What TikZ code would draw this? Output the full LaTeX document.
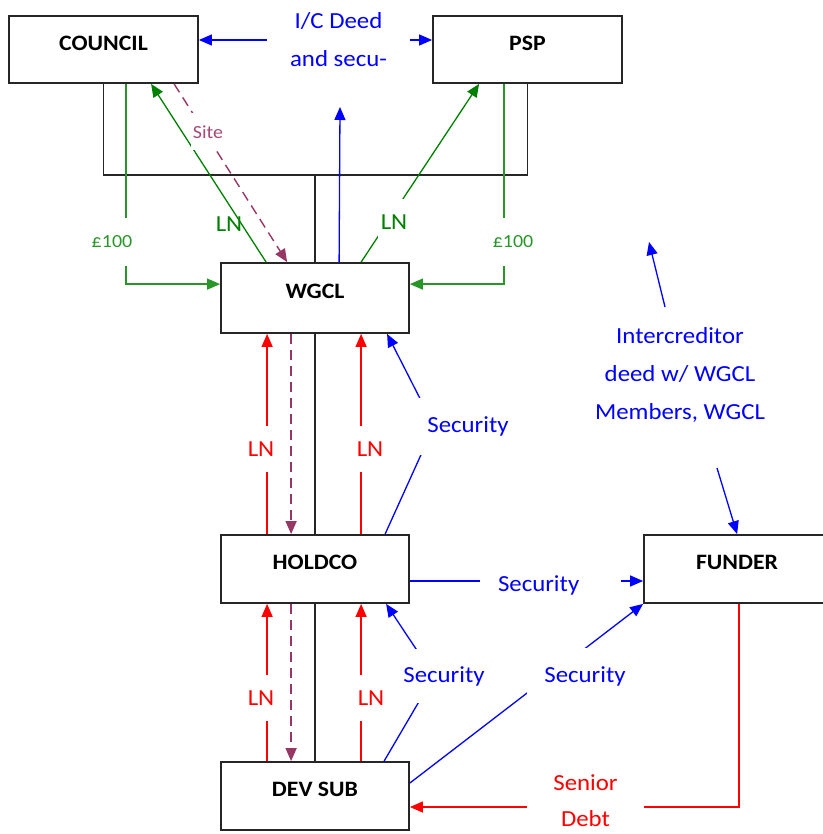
\documentclass[tikz,border=0pt]{standalone}
\usepackage{fontspec}
\setmainfont[FakeStretch=1.08]{Carlito}
\usetikzlibrary{arrows.meta,calc}
\definecolor{cblue}{RGB}{0,0,255}
\definecolor{cgreen}{RGB}{0,128,0}
\definecolor{clgreen}{RGB}{40,150,40}
\definecolor{cred}{RGB}{255,0,0}
\definecolor{cpurp}{RGB}{150,55,100}
\definecolor{cpurptext}{RGB}{165,75,120}
\begin{document}
\begin{tikzpicture}[x=1pt,y=-1pt,
  box/.style={draw=black!85, line width=1.8pt, fill=white, rectangle, inner sep=0pt,
    font=\fontsize{22}{26}\selectfont\bfseries, text height=16pt, text depth=16pt},
  tip/.style={-{Triangle[length=13pt,width=11pt]}},
  own/.style={draw=black!85, line width=1.5pt},
  gline/.style={draw=cgreen, line width=1.3pt},
  lgline/.style={draw=clgreen, line width=1.3pt},
  bline/.style={draw=cblue, line width=1.3pt},
  rline/.style={draw=cred, line width=1.3pt},
  pline/.style={draw=cpurp, line width=1.4pt, dash pattern=on 10pt off 6pt},
  lbl/.style={fill=white, font=\fontsize{23}{38}\selectfont, inner sep=0pt, align=center},
  slbl/.style={fill=white, font=\fontsize{18.5}{22}\selectfont, inner sep=0pt, align=center}
]
\useasboundingbox (0,0) rectangle (822,834);

% boxes
\node[box, minimum width=189pt, minimum height=67pt, text depth=13pt] (council) at (103.5,49.5) {COUNCIL};
\node[box, minimum width=189pt, minimum height=67pt, text depth=13pt] (psp) at (527.5,49.5) {PSP};
\node[box, minimum width=188pt, minimum height=70pt] (wgcl) at (315,298) {WGCL};
\node[box, minimum width=188pt, minimum height=68pt] (holdco) at (315,569) {HOLDCO};
\node[box, minimum width=188pt, minimum height=68pt] (devsub) at (315,796) {DEV SUB};
\node[box, minimum width=186pt, minimum height=68pt] (funder) at (737,569) {FUNDER};

% text boxes with arrows
\node[lbl, text=cblue, minimum width=143pt] (ic) at (338.5,40) {I/C Deed\\and secu-};
\node[lbl, text=cblue] (icd) at (680,375) {Intercreditor\\deed w/ WGCL\\Members, WGCL};

% ownership lines
\coordinate (own) at (315,175);
\draw[own] (council.south) |- (own) -| (psp.south);
\draw[own] (own) -- (wgcl.north);
\draw[own] (wgcl.south) -- (holdco.north);
\draw[own] (holdco.south) -- (devsub.north);

% top
\draw[bline,tip] (ic.west) -- (ic.west -| council.east);
\draw[bline,tip] (ic.east) -- (ic.east -| psp.west);
\coordinate (icup) at (340,107);
\draw[bline,tip] ([xshift=119pt]wgcl.north west) -- (icup);

\draw[lgline,tip] ([xshift=118pt]council.south west) |- ([yshift=-22pt]wgcl.north west);
\draw[lgline,tip] ([xshift=-119pt]psp.south east) |- ([yshift=-22pt]wgcl.north east);
\draw[gline,tip] ([xshift=46pt]wgcl.north west) -- ([xshift=143pt]council.south west);
\draw[gline,tip] ([xshift=141pt]wgcl.north west) -- ([xshift=47pt]psp.south west);
\draw[pline,tip] ([xshift=166pt]council.south west) -- ([xshift=67pt]wgcl.north west);

% WGCL - HOLDCO
\draw[rline,tip] ([xshift=47pt]holdco.north west) -- ([xshift=47pt]wgcl.south west);
\draw[rline,tip] ([xshift=141pt]holdco.north west) -- ([xshift=141pt]wgcl.south west);
\draw[pline,tip] ([xshift=71pt]wgcl.south west) -- ([xshift=71pt]holdco.north west);

% HOLDCO - DEV SUB
\draw[rline,tip] ([xshift=47pt]devsub.north west) -- ([xshift=47pt]holdco.south west);
\draw[rline,tip] ([xshift=141pt]devsub.north west) -- ([xshift=141pt]holdco.south west);
\draw[pline,tip] ([xshift=71pt]holdco.south west) -- ([xshift=71pt]devsub.north west);

% security
\coordinate (b1) at (434,426);
\draw[bline,tip] ([xshift=165pt]holdco.north west) -- (b1) -- ([xshift=167pt]wgcl.south west);
\coordinate (b2) at (434,676);
\draw[bline,tip] ([xshift=164pt]devsub.north west) -- (b2) -- ([xshift=166pt]holdco.south west);
\draw[bline,tip] ([yshift=13pt]devsub.east) -- (funder.south west);
\draw[bline,tip] ([yshift=-12pt]holdco.east) -- ([yshift=-12pt]holdco.east -| funder.west);

% intercreditor arrows
\coordinate (icdA) at (665,307);
\coordinate (icdB) at (649,242);
\coordinate (icdC) at (717,468);
\draw[bline,tip] (icdA) -- (icdB);
\draw[bline,tip] (icdC) -- ([xshift=94pt]funder.north west);

% senior debt
\draw[rline,tip] ([xshift=96pt]funder.south west) |- ([yshift=-11pt]devsub.east);

% labels
\node[slbl, text=clgreen, minimum height=47pt, minimum width=48pt] (l100a) at (112,242) {£100};
\node[slbl, text=clgreen, minimum height=47pt, minimum width=48pt] (l100b) at (513,242) {£100};
\node[slbl, text=cpurptext, minimum height=37pt, minimum width=34pt] (site) at (208,132) {Site};
\node[lbl, text=cgreen, fill=none] (lnA) at (229,224) {LN};
\node[lbl, text=cgreen, minimum height=46pt, minimum width=32pt] (lnB) at (394,222) {LN};
\node[lbl, text=cred, minimum height=46pt, minimum width=32pt] (ln1) at (261,449) {LN};
\node[lbl, text=cred, minimum height=46pt, minimum width=32pt] (ln2) at (370,449) {LN};
\node[lbl, text=cred, minimum height=46pt, minimum width=32pt] (ln3) at (261,698) {LN};
\node[lbl, text=cred, minimum height=46pt, minimum width=32pt] (ln4) at (371,698) {LN};
\node[lbl, text=cblue, minimum width=106pt, minimum height=57pt] (sec1) at (468,426) {Security};
\node[lbl, text=cblue, minimum width=100pt, minimum height=54pt] (sec2) at (444,676) {Security};
\node[lbl, text=cblue, minimum width=116pt, minimum height=56pt] (sec3) at (585,676) {Security};
\node[lbl, text=cblue, text width=141pt, align=left, minimum height=40pt] (sec4) at (550.5,585) {\hspace*{18pt}Security};
\node[lbl, text=cred, minimum width=117pt, font=\fontsize{23}{36}\selectfont] (sd) at (585.5,801) {Senior\\Debt};
\end{tikzpicture}
\end{document}
